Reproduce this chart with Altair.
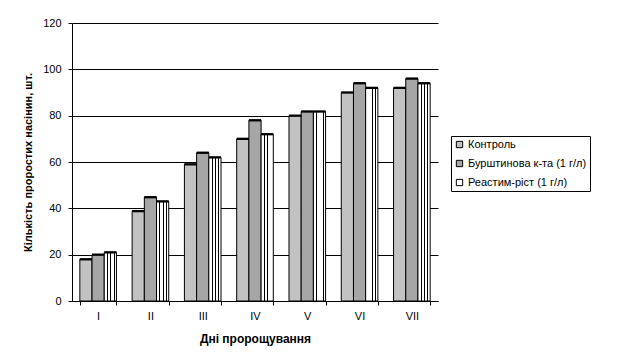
import altair as alt
import pandas as pd

days = ["I", "II", "III", "IV", "V", "VI", "VII"]
series_names = ["Контроль", "Бурштинова к-та (1 г/л)", "Реастим-ріст (1 г/л)"]
control = [18, 38.8, 59, 70, 80, 90, 92]
bursht = [20, 44.8, 64, 78, 81.8, 94, 96]
reastim = [21, 43, 62, 72, 81.8, 92, 94]
err_control = [0.5, 0.5, 0.5, 0.5, 0.5, 0.5, 0.5]
err_bursht = [0.5, 0.5, 0.5, 0.5, 0.5, 0.5, 0.5]
err_reastim = [0.5, 0.5, 0.5, 0.5, 0.5, 0.5, 0.5]

rows = []
for name, vals, errs in [(series_names[0], control, err_control),
                         (series_names[1], bursht, err_bursht),
                         (series_names[2], reastim, err_reastim)]:
    for d, v, e in zip(days, vals, errs):
        rows.append({"day": d, "series": name, "value": v, "lo": v - e, "hi": v + e})
df = pd.DataFrame(rows)

FONT = "Liberation Sans"

stripes = {
    "gradient": "linear", "x1": 0, "y1": 0, "x2": 1, "y2": 0,
    "stops": [
        {"offset": 0.0, "color": "white"}, {"offset": 0.24, "color": "white"},
        {"offset": 0.24, "color": "black"}, {"offset": 0.31, "color": "black"},
        {"offset": 0.31, "color": "white"}, {"offset": 0.51, "color": "white"},
        {"offset": 0.51, "color": "black"}, {"offset": 0.58, "color": "black"},
        {"offset": 0.58, "color": "white"}, {"offset": 0.78, "color": "white"},
        {"offset": 0.78, "color": "black"}, {"offset": 0.85, "color": "black"},
        {"offset": 0.85, "color": "white"}, {"offset": 1.0, "color": "white"},
    ],
}

x_enc = alt.X("day:N", sort=days,
              scale=alt.Scale(paddingInner=0.3, paddingOuter=0.15),
              axis=alt.Axis(title="Дні пророщування", labelAngle=0,
                            domainColor="black", tickColor="black", tickSize=4,
                            tickBand="extent", labelPadding=5, titlePadding=12,
                            labelFont=FONT, labelFontSize=11, labelColor="black",
                            titleFont=FONT, titleFontSize=12, titleFontWeight="bold",
                            titleColor="black", grid=False))
xo_enc = alt.XOffset("series:N", sort=series_names,
                     scale=alt.Scale(domain=series_names, paddingInner=0, paddingOuter=0))
y_scale = alt.Scale(domain=[0, 120], nice=False)

bars = alt.Chart(df).mark_bar(stroke="black", strokeWidth=1).encode(
    x=x_enc,
    xOffset=xo_enc,
    y=alt.Y("value:Q", scale=y_scale,
            axis=alt.Axis(title="Кількість проростих насінин, шт.",
                          values=[0, 20, 40, 60, 80, 100, 120],
                          domainColor="black", tickColor="black", tickSize=4,
                          labelPadding=7, gridColor="black", gridOpacity=1,
                          labelFont=FONT, labelFontSize=11, labelColor="black",
                          titleFont=FONT, titleFontSize=11, titleFontWeight="bold",
                          titleColor="black", titleX=-44, titleY=139,
                          titleBaseline="middle", titleAlign="center")),
    fill=alt.condition(
        "datum.series === 'Реастим-ріст (1 г/л)'",
        alt.value(stripes),
        alt.Fill("series:N", sort=series_names,
                 scale=alt.Scale(domain=series_names,
                                 range=["#c2c2c2", "#a6a6a6", "#ffffff"]),
                 legend=alt.Legend(title=None, orient="none", legendX=379, legendY=113,
                                   strokeColor="black", padding=3, symbolType="square",
                                   symbolSize=40, symbolStrokeColor="black",
                                   symbolStrokeWidth=1, labelFont=FONT,
                                   labelFontSize=11, labelColor="black",
                                   labelOffset=3, rowPadding=7)),
    ),
)

caps = alt.Chart(df).mark_bar(color="black").encode(
    x=alt.X("day:N", sort=days),
    xOffset=alt.XOffset("series:N", sort=series_names),
    y=alt.Y("lo:Q", scale=y_scale),
    y2="hi:Q",
)

chart = alt.layer(bars, caps).properties(
    width=366, height=278,
    autosize=alt.AutoSizeParams(type="none"),
    padding={"left": 64, "top": 15, "right": 173, "bottom": 54},
).configure_view(stroke=None).configure_axis(gridWidth=1)

chart.save("out.html", embed_options={"renderer": "svg", "actions": False})
